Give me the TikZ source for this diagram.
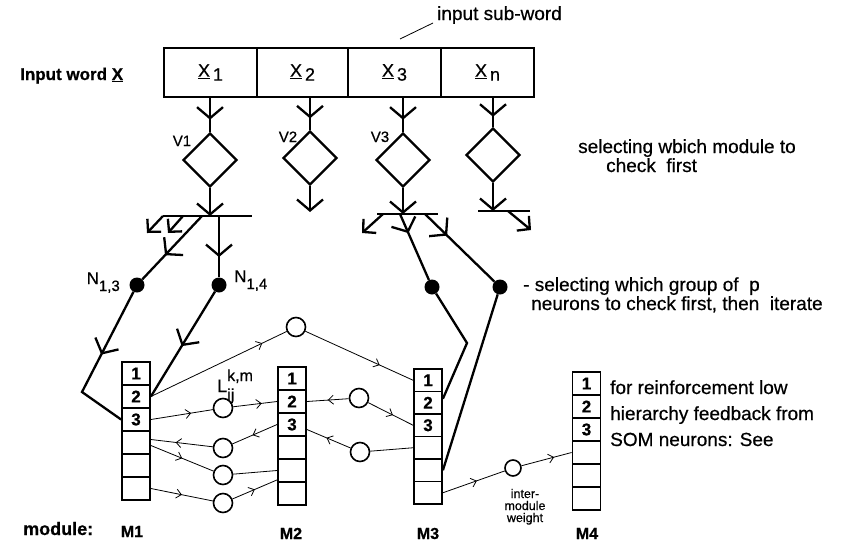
\documentclass[tikz,border=0pt]{standalone}
\usepackage{fontspec}
\setmainfont{Liberation Sans}[FakeBold=0.6]
\usetikzlibrary{arrows.meta,shapes.geometric,decorations.markings,calc}
\newcommand\fsz[1]{\fontsize{#1}{#1}\selectfont}
\tikzset{
  bigtip/.tip={Straight Barb[length=11pt,width=26pt]},
  medtip/.tip={Straight Barb[length=9pt,width=19pt]},
  thintip/.tip={Straight Barb[length=5pt,width=9pt]},
  midbig/.style={postaction={decorate},decoration={markings,mark=at position #1 with {\arrow{bigtip}}}},
  midthin/.style={postaction={decorate},decoration={markings,mark=at position #1 with {\arrow{thintip}}}},
  thickln/.style={line width=2.3pt},
  thinln/.style={line width=0.8pt},
  inbox/.style={draw,line width=1.8pt,minimum height=49pt,inner sep=0pt},
  vdiam/.style={draw,diamond,line width=2.2pt,minimum size=54pt,inner sep=0pt},
  ndot/.style={circle,fill=black,minimum size=15pt,inner sep=0pt},
  wcirc/.style={circle,draw,line width=1.6pt,minimum size=19pt,inner sep=0pt,fill=white},
  modcell/.style={draw,line width=1.8pt,minimum width=28pt,inner sep=0pt,font=\fsz{17}\bfseries},
  txt/.style={inner sep=0pt,anchor=base west,font=\fsz{19}},
}
\begin{document}
\begin{tikzpicture}[x=1pt,y=-1pt]
\useasboundingbox (0,0) rectangle (853,546);

% input word
\node[inbox,minimum width=93pt] (x1) at (210.5,72.5) {\fsz{18}\underline{X}\,\raisebox{-4pt}{1}};
\node[inbox,minimum width=91pt] (x2) at (302.5,72.5) {\fsz{18}\underline{X}\,\raisebox{-4pt}{2}};
\node[inbox,minimum width=93pt] (x3) at (394.5,72.5) {\fsz{18}\underline{X}\,\raisebox{-4pt}{3}};
\node[inbox,minimum width=93pt] (x4) at (487.5,72.5) {\fsz{18}\underline{X}\,\raisebox{-4pt}{n}};

\node[txt] (sub) at (437,20) {input sub-word};
\coordinate (lead) at (400,39);
\draw[thinln] (lead) -- ($(sub.base west)+(-4,3)$);
\node[txt,font=\fsz{17}\bfseries] (inw) at (20,80) {Input word \underline{X}};

% diamonds
\node[vdiam] (v1) at (210,160) {};
\node[vdiam] (v2) at (310,158) {};
\node[vdiam] (v3) at (403,160) {};
\node[vdiam] (vn) at (493,155) {};
\node[txt,anchor=base,font=\fsz{15}] (lv1) at (182,146) {V1};
\node[txt,anchor=base,font=\fsz{15}] (lv2) at (288,142) {V2};
\node[txt,anchor=base,font=\fsz{15}] (lv3) at (380,142) {V3};

\draw[thickln,midbig=0.64] (x1.south -| v1) -- (v1.north);
\draw[thickln,midbig=0.64] (x2.south -| v2) -- (v2.north);
\draw[thickln,midbig=0.64] (x3.south -| v3) -- (v3.north);
\draw[thickln,midbig=0.65] (x4.south -| vn) -- (vn.north);

% dots
\node[ndot] (n13) at (137,285) {};
\node[ndot] (n14) at (219,285) {};
\node[ndot] (n33) at (432,287) {};
\node[ndot] (n34) at (500,287) {};
\node[inner sep=0pt,anchor=base east,font=\fsz{17}] (ln13) at (120,284) {N\raisebox{-7pt}{\fsz{15}1,3}};
\node[inner sep=0pt,anchor=base west,font=\fsz{17}] (ln14) at (234,282) {N\raisebox{-7pt}{\fsz{15}1,4}};

% V1 branches
\coordinate (j1) at (210,216);
\coordinate (b1l) at (163,216);
\coordinate (b1r) at (252,216);
\coordinate (a1e) at (147,233);
\coordinate (a2s) at (183,216);
\coordinate (a2e) at (168,233);
\coordinate (d1s) at (202,216);
\coordinate (d2s) at (219,216);
\draw[thickln] (b1l) -- (b1r);
\draw[thickln,-bigtip] (v1.south) -- (j1);
\draw[thickln,-medtip] (b1l) -- (a1e);
\draw[thickln,-medtip] (a2s) -- (a2e);
\draw[thickln,midbig=0.62] (d1s) -- (n13);
\draw[thickln,midbig=0.67] (d2s) -- (n14);

% V2
\coordinate (e2) at (310,212);
\draw[thickln,-bigtip] (v2.south) -- (e2);

% V3 branches
\coordinate (j3) at (403,214);
\coordinate (b3l) at (377,214);
\coordinate (b3r) at (438,214);
\coordinate (c1s) at (383,214);
\coordinate (c1e) at (362,233);
\coordinate (c2s) at (400,214);
\coordinate (c3s) at (425,214);
\draw[thickln] (b3l) -- (b3r);
\draw[thickln,-bigtip] (v3.south) -- (j3);
\draw[thickln,-medtip] (c1s) -- (c1e);
\draw[thickln,midbig=0.29] (c2s) -- (n33);
\draw[thickln,midbig=0.32] (c3s) -- (n34);

% Vn
\coordinate (jn) at (493,211);
\coordinate (bnl) at (478,211);
\coordinate (bnr) at (530,211);
\coordinate (fs) at (508,211);
\coordinate (fe) at (531,230);
\draw[thickln] (bnl) -- (bnr);
\draw[thickln,-bigtip] (vn.south) -- (jn);
\draw[thickln,-medtip] (fs) -- (fe);

% modules
\foreach \m/\x/\y/\h in {1/136/362/23,2/292/367/23,3/428/369/22.5,4/586.5/372/23}{
  \foreach \i in {1,...,6}{
    \node[modcell,minimum height={\h*1pt}] (m\m-\i) at (\x,{\y+\h*(\i-0.5)}) {\ifnum\i<4 \i\fi};
  }
}

% thick lines to modules
\coordinate (k1) at (82,392);
\coordinate (k3) at (467,343);
\draw[thickln,midbig=0.44] (n13) -- (k1) -- (m1-3.west);
\draw[thickln,midbig=0.52] (n14) -- (m1-2.east);
\draw[thickln] (n33) -- (k3) -- ($(m3-2.east)+(0,-4)$);
\draw[thickln] (n34) -- (m3-5.east);

% weights
\node[wcirc] (wtop) at (296,327) {};
\node[wcirc] (wL) at (223,408) {};
\node[wcirc] (wa) at (223,448) {};
\node[wcirc] (wb) at (223,475) {};
\node[wcirc] (wc) at (223,503) {};
\node[wcirc] (wm1) at (359,398) {};
\node[wcirc] (wm2) at (360,452) {};
\node[wcirc,minimum size=16pt] (winter) at (513,468) {};

\draw[thinln,midthin=0.82] (m1-2.east) -- (wtop);
\draw[thinln,midthin=0.69] (wtop) -- (m3-1.west);
\draw[thinln,midthin=0.65] (m1-3.east) -- (wL);
\draw[thinln,midthin=0.65] (wL) -- (m2-2.west);
\draw[thinln,midthin=0.55] (m2-3.west) -- (wa);
\draw[thinln,midthin=0.6] (wa) -- ($(m1-4.east)+(0,-3)$);
\draw[thinln,midthin=0.5] ($(m1-4.east)+(0,3)$) -- (wb);
\draw[thinln] (wb) -- (m2-5.west);
\draw[thinln,midthin=0.5] (m1-6.east) -- (wc);
\draw[thinln,midthin=0.5] (wc) -- ($(m2-5.south west)+(0,-3)$);
\draw[thinln,midthin=0.5] (wm1) -- (m2-2.east);
\draw[thinln,midthin=0.55] (wm1) -- (m3-3.west);
\draw[thinln] (m3-4.west) -- (wm2);
\draw[thinln,midthin=0.55] (wm2) -- ($(m2-3.east)+(0,5)$);
\draw[thinln,midthin=0.55] (m3-6.east) -- (winter);
\draw[thinln,midthin=0.65] (winter) -- (m4-4.west);

\node[inner sep=0pt,anchor=base west,font=\fsz{18}] (lij) at (217,392) {L\rlap{\raisebox{11pt}{\fsz{16}k,m}}\raisebox{-8pt}{\fsz{16}ij}};

% texts
\node[txt] (sel1) at (578,153) {selecting wbich module to};
\node[txt] (sel2) at (606,172) {check\ \ first};
\node[txt] (grp1) at (523,291) {- selecting which group of\ \ p};
\node[txt] (grp2) at (531,310) {neurons to check first, then\ \ iterate};
\node[txt] (fb1) at (610,394) {for reinforcement low};
\node[txt] (fb2) at (610,420) {hierarchy feedback from};
\node[txt] (fb3) at (610,446) {SOM neurons: See};
\node[txt,anchor=base,font=\fsz{12.5}] (iw1) at (525,498) {inter-};
\node[txt,anchor=base,font=\fsz{12.5}] (iw2) at (525,510) {module};
\node[txt,anchor=base,font=\fsz{12.5}] (iw3) at (525,522) {weight};
\node[txt,font=\fsz{18}\bfseries] (modl) at (23,535) {module:};
\node[txt,anchor=base,font=\fsz{16}\bfseries] (lm1) at (132,537) {M1};
\node[txt,anchor=base,font=\fsz{16}\bfseries] (lm2) at (291,539) {M2};
\node[txt,anchor=base,font=\fsz{16}\bfseries] (lm3) at (428,539) {M3};
\node[txt,anchor=base,font=\fsz{16}\bfseries] (lm4) at (587,539) {M4};
\end{tikzpicture}
\end{document}
